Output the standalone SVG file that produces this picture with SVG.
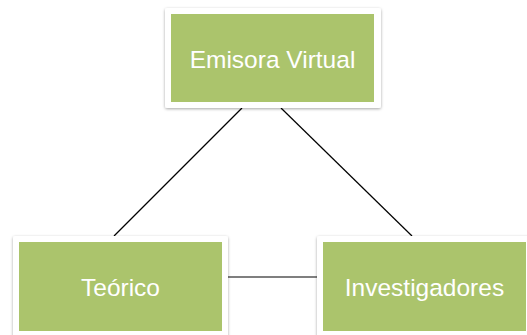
<svg xmlns="http://www.w3.org/2000/svg" width="527" height="335" viewBox="0 0 527 335">
<defs>
<filter id="sh" x="-10%" y="-10%" width="120%" height="120%">
<feDropShadow dx="0" dy="1" stdDeviation="1.5" flood-color="#000" flood-opacity="0.35"/>
</filter>
<style>
.frame{fill:#ffffff;filter:url(#sh)}
.box{fill:#abc46c}
.lbl{font-family:"Liberation Sans",Arial,sans-serif;font-size:24.5px;fill:#ffffff;text-anchor:middle}
.conn{stroke:#000;stroke-width:1.2;fill:none}
</style>
</defs>
<rect width="527" height="335" fill="#ffffff"/>
<g id="connectors">
<line class="conn" x1="242" y1="108" x2="114" y2="236"/>
<line class="conn" x1="281" y1="108" x2="412" y2="236"/>
<line class="conn" x1="228" y1="277" x2="317" y2="277"/>
</g>
<g id="emisora">
<rect class="frame" x="165" y="8" width="216" height="100" rx="2"/>
<rect class="box" x="171" y="14" width="203" height="88"/>
<text class="lbl" x="272.5" y="68">Emisora Virtual</text>
</g>
<g id="teorico">
<rect class="frame" x="13" y="236" width="215" height="102" rx="2"/>
<rect class="box" x="19" y="242" width="203" height="89"/>
<text class="lbl" x="120.5" y="296">Teórico</text>
</g>
<g id="investigadores">
<rect class="frame" x="317" y="236" width="216" height="102" rx="2"/>
<rect class="box" x="323" y="242" width="203" height="89"/>
<text class="lbl" x="424.5" y="296">Investigadores</text>
</g>
</svg>
